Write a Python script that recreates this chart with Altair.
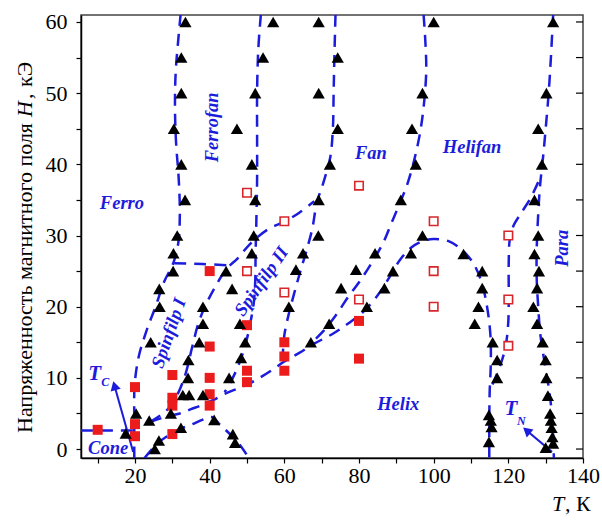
import altair as alt
import pandas as pd

# ---------------- data ----------------
# black triangles (T, K ; H, kOe)
tri_T = [33.5, 32.4, 32.4, 30.4, 32.4, 33.4, 31.3, 30.3, 30.2, 26.5, 26.6, 24.2, 17.5, 20.3, 23.8, 26.4, 25.3, 29.6,
         32.3, 34.3, 34.2, 32.8, 34.5, 38.2, 38.2, 38.2, 37.2, 44.4, 46.0, 41.2, 46.2, 46.8, 45.2, 48.1, 49.5, 48.4,
         47.3,
         57.0, 54.3, 52.2, 51.3, 52.2, 51.8, 51.3,
         69.2, 74.3, 69.2, 74.3, 72.2, 69.2, 69.1, 65.0, 63.1, 61.2,
         100.0, 97.0, 94.2, 95.2, 91.2, 97.0,
         93.9, 89.1, 86.8, 84.3, 79.2, 75.2, 72.0, 67.1, 82.1,
         108.0, 113.0, 113.0, 112.0, 111.0, 115.8, 117.0, 117.0, 114.8, 115.3, 115.5, 114.8,
         132.0, 130.2, 128.0, 129.0, 127.0, 128.0, 127.0, 128.2, 127.7, 126.7, 127.7, 129.2, 130.0, 130.2, 130.6,
         131.2, 131.4, 131.6, 131.8, 132.0, 130.0]
tri_H = [60, 55, 50, 45, 40, 35, 30, 27.5, 25, 22.5, 20, 15, 2.2, 5, 4, 1.2, 0, 5,
         3, 12.5, 10, 7.6, 7.6, 7.6, 20, 17.6, 15, 25, 22.5, 4.1, 2.1, 0.9, 10, 17.6, 15, 12.8,
         45,
         60, 55, 50, 40, 35, 30, 27.5,
         60, 55, 50, 45, 40, 35, 30, 27.5, 25.2, 20,
         60, 50, 45, 40, 35, 30,
         27.5, 25, 22.6, 27.5, 25.2, 22.6, 17.6, 15, 20,
         27.4, 25, 22.6, 20, 17.6, 15, 12.5, 10, 4.8, 4, 3.1, 1,
         60, 50, 45, 40, 35, 30, 27.4, 25, 22.6, 20, 17.6, 15, 12.5, 10, 7.5,
         5, 4, 3, 1.7, 0.8, 0.2]

# red filled squares
sq_T = [10, 20, 20, 20, 30, 30, 30, 30, 40, 40, 40, 40, 40, 50, 50, 50, 60, 60, 60, 80, 80]
sq_H = [2.7, 8.7, 3.5, 1.8, 10.4, 7.2, 6.1, 2.1, 25, 14.4, 10, 7.7, 6.1, 17.4, 11, 9.4, 15, 13, 11, 18, 12.7]

# red open squares
hol_T = [50, 50, 60, 60, 80, 80, 100, 100, 100, 120, 120, 120]
hol_H = [36, 25, 32, 22, 37, 21, 32, 25, 20, 30, 21, 14.5]

# dashed phase boundaries
cone_T = [5.5, 21.0]
cone_H = [2.6, 2.6]
ferro_T = [19.8, 19.8, 19.9, 21.0, 23.0, 25.5, 27.8, 30.3, 31.6, 32.0, 31.7, 31.0, 30.7, 30.9, 31.5, 32.2]
ferro_H = [-1.3, 4.0, 9.0, 13.0, 16.5, 20.0, 23.5, 26.2, 29.0, 33.0, 38.0, 43.0, 48.0, 53.0, 57.0, 61.0]
sf1_T = [30.5, 38.0, 45.0]
sf1_H = [26.1, 26.0, 25.8]
ffan_T = [53.7, 53.0, 52.7, 52.7, 52.7, 52.5, 52.3, 52.2, 51.8, 50.8, 49.5, 47.5, 45.5, 44.0]
ffan_H = [61.0, 56.0, 50.0, 44.0, 38.0, 32.0, 27.5, 23.5, 20.5, 17.5, 14.5, 11.5, 9.3, 8.0]
sf2_T = [24.0, 27.0, 29.5, 31.5, 33.5, 35.3, 37.0, 39.0, 41.5, 44.5, 47.5, 50.8, 55.4, 60.2, 64.0, 68.0]
sf2_H = [3.8, 4.8, 6.0, 7.8, 10.5, 14.3, 17.7, 20.3, 22.8, 25.3, 26.8, 28.8, 30.8, 32.0, 33.2, 34.8]
fan_T = [73.7, 73.4, 73.2, 73.0, 72.3, 70.5, 68.7, 67.5, 66.0, 64.3, 62.7, 61.2, 60.0, 59.5]
fan_H = [61.0, 55.0, 50.0, 45.0, 41.0, 37.5, 34.6, 31.0, 28.0, 25.0, 22.0, 19.0, 16.0, 12.3]
hfan_T = [97.3, 97.8, 98.0, 97.3, 96.2, 94.5, 92.8, 90.5, 88.5, 86.5, 83.8, 80.5, 77.0, 73.8, 70.5, 67.0]
hfan_H = [61.0, 57.0, 53.0, 48.0, 44.0, 40.0, 37.0, 34.0, 31.5, 29.0, 26.5, 23.8, 21.3, 18.8, 16.6, 14.8]
helix_T = [24.0, 28.0, 32.0, 35.0, 38.0, 41.0, 44.6, 48.0, 51.0, 54.0, 57.0, 60.0, 64.0, 68.0, 73.0, 77.0,
           81.0, 85.0, 88.0, 91.0, 94.0, 97.0, 100.0, 104.0, 107.5, 110.5, 112.8, 114.3, 115.2, 115.3, 115.0,
           114.9, 114.9]
helix_H = [3.8, 4.5, 5.0, 5.6, 6.2, 6.9, 7.9, 8.6, 9.3, 10.2, 11.2, 12.3, 13.5, 14.8, 16.2, 17.6,
           19.2, 21.6, 24.0, 26.6, 28.3, 29.2, 29.5, 29.2, 28.0, 26.2, 23.5, 20.0, 16.0, 12.0, 8.0,
           4.0, -1.3]
dome_T = [22.5, 26.0, 28.6, 32.0, 35.0, 38.0, 40.5, 43.0, 46.0, 48.5, 50.5]
dome_H = [-1.3, 0.8, 1.8, 2.8, 3.4, 4.1, 4.5, 3.3, 1.8, 0.3, -1.3]
para_T = [132.0, 131.4, 130.8, 130.0, 129.3, 128.5, 128.0, 127.6, 127.6, 128.0, 128.6, 129.6, 131.0, 131.8, 132.2]
para_H = [61.0, 55.0, 50.0, 45.0, 41.0, 37.0, 33.0, 28.0, 24.0, 20.0, 16.0, 12.5, 8.0, 4.0, -1.3]
branch_T = [128.0, 126.0, 123.5, 121.5, 120.4, 120.1, 120.1, 120.0, 119.3, 118.0, 116.5, 115.3]
branch_H = [37.5, 35.3, 33.2, 31.5, 29.5, 26.0, 22.0, 18.0, 14.5, 12.0, 10.0, 8.5]

# arrows (T_C and T_N): shaft from base to head
arrow_names = ["TC", "TN"]
arrow_T0 = [19.5, 131.7]
arrow_H0 = [-0.4, -0.4]
arrow_T1 = [14.5, 124.9]
arrow_H1 = [8.9, 2.6]
arrow_ang = [344.5, 309.8]

# phase labels
lab_text = ["Ferro", "Fan", "Helifan", "Helix", "Cone"]
lab_T = [16.5, 83.2, 110.3, 90.5, 12.8]
lab_H = [34.6, 41.6, 42.4, 6.3, 0.1]
rlab_text = ["Ferrofan", "Para", "Spinfilp I", "Spinfilp II"]
rlab_T = [40.6, 134.4, 29.0, 53.8]
rlab_H = [45.2, 28.2, 16.3, 23.6]
rlab_ang = [270, 270, 289, 305]
sym_T_T = [9.2, 120.7]
sym_T_H = [10.5, 5.6]
sym_sub_text = ["C", "N"]
sym_sub_T = [12.0, 123.5]
sym_sub_H = [9.4, 3.9]

x_ticks = list(range(10, 141, 10))
y_ticks = list(range(0, 61, 5))

# ---------------- styling ----------------
BLUE = "#1c1cdc"
SERIF = "Liberation Serif"
W, Hh = 502, 443

xs = alt.Scale(domain=[5.53, 140], nice=False, zero=False)
ys = alt.Scale(domain=[-1.26, 60.98], nice=False, zero=False)
xaxis = alt.Axis(values=x_ticks, labelExpr="datum.value % 20 == 0 ? datum.label : ''", title=None,
                 grid=False, tickSize=5, tickColor="black", tickWidth=1.2, domainColor="black",
                 domainWidth=1.5, labelFont=SERIF, labelFontSize=22, labelColor="black",
                 labelPadding=2, labelOverlap=False, labelFlush=False)
yaxis = alt.Axis(values=y_ticks, labelExpr="datum.value % 10 == 0 ? datum.label : ''", title=None,
                 grid=False, tickSize=5, tickColor="black", tickWidth=1.2, domainColor="black",
                 domainWidth=1.5, labelFont=SERIF, labelFontSize=22, labelColor="black",
                 labelPadding=9, labelOverlap=False, labelFlush=False)


def X():
    return alt.X("T:Q", scale=xs, axis=xaxis)


def Y():
    return alt.Y("H:Q", scale=ys, axis=yaxis)


curves = {
    "cone": (cone_T, cone_H), "ferro": (ferro_T, ferro_H), "sf1": (sf1_T, sf1_H),
    "ffan": (ffan_T, ffan_H), "sf2": (sf2_T, sf2_H), "fan": (fan_T, fan_H),
    "hfan": (hfan_T, hfan_H), "helix": (helix_T, helix_H), "dome": (dome_T, dome_H),
    "para": (para_T, para_H), "branch": (branch_T, branch_H),
}
rows = []
for name, (ts, hs) in curves.items():
    for i, (t, h) in enumerate(zip(ts, hs)):
        rows.append({"curve": name, "ord": i, "T": t, "H": h})
lines_df = pd.DataFrame(rows)

arrow_rows = []
for n, t0, h0, t1, h1 in zip(arrow_names, arrow_T0, arrow_H0, arrow_T1, arrow_H1):
    arrow_rows.append({"arrow": n, "ord": 0, "T": t0, "H": h0})
    arrow_rows.append({"arrow": n, "ord": 1, "T": t1, "H": h1})
arrow_df = pd.DataFrame(arrow_rows)
head_df = pd.DataFrame({"T": arrow_T1, "H": arrow_H1, "ang": arrow_ang})

tri_df = pd.DataFrame({"T": tri_T, "H": tri_H})
sq_df = pd.DataFrame({"T": sq_T, "H": sq_H})
hol_df = pd.DataFrame({"T": hol_T, "H": hol_H})
lab_df = pd.DataFrame({"T": lab_T, "H": lab_H, "txt": lab_text})
rlab_df = pd.DataFrame({"T": rlab_T, "H": rlab_H, "txt": rlab_text, "ang": rlab_ang})
symT_df = pd.DataFrame({"T": sym_T_T, "H": sym_T_H, "txt": ["T", "T"]})
symS_df = pd.DataFrame({"T": sym_sub_T, "H": sym_sub_H, "txt": sym_sub_text})
rt_df = pd.DataFrame({"H": y_ticks})
one = pd.DataFrame({"a": [0]})

lines = alt.Chart(lines_df).mark_line(
    color=BLUE, strokeWidth=2.5, strokeDash=[12, 8], interpolate="catmull-rom", clip=True
).encode(x=X(), y=Y(), detail="curve:N", order="ord:Q")

arrows = alt.Chart(arrow_df).mark_line(color=BLUE, strokeWidth=2).encode(
    x=X(), y=Y(), detail="arrow:N", order="ord:Q")
heads = alt.Chart(head_df).mark_point(shape="triangle-up", filled=True, color=BLUE, size=110,
                                      opacity=1).encode(
    x=X(), y=Y(), angle=alt.Angle("ang:Q", scale=None))

rticks = alt.Chart(rt_df).mark_rule(color="black", strokeWidth=1.2).encode(
    y=Y(), x=alt.value(W - 7), x2=alt.value(W))

filled = alt.Chart(sq_df).mark_square(size=100, color="#ec1c1c", opacity=1).encode(x=X(), y=Y())
hollow = alt.Chart(hol_df).mark_square(size=72, filled=True, fill="white", stroke="#d8262a",
                                       strokeWidth=1.6, opacity=1).encode(x=X(), y=Y())
tris = alt.Chart(tri_df).mark_point(shape="triangle-up", filled=True, color="black", size=150,
                                    opacity=1).encode(x=X(), y=Y())

labels = alt.Chart(lab_df).mark_text(font=SERIF, fontSize=18.5, fontStyle="italic", fontWeight="bold",
                                     color=BLUE).encode(x=X(), y=Y(), text="txt:N")
rlabels = alt.Chart(rlab_df).mark_text(font=SERIF, fontSize=18.5, fontStyle="italic", fontWeight="bold",
                                       color=BLUE).encode(x=X(), y=Y(), text="txt:N",
                                                          angle=alt.Angle("ang:Q", scale=None))
symT = alt.Chart(symT_df).mark_text(font=SERIF, fontSize=21, fontStyle="italic", fontWeight="bold",
                                    color=BLUE).encode(x=X(), y=Y(), text="txt:N")
symS = alt.Chart(symS_df).mark_text(font=SERIF, fontSize=12, fontStyle="italic", fontWeight="bold",
                                    color=BLUE).encode(x=X(), y=Y(), text="txt:N")

# axis titles built from pieces (italic symbol)
yt1 = alt.Chart(one).mark_text(font=SERIF, fontSize=22, angle=270, align="right", baseline="middle",
                               color="black").encode(x=alt.value(-56), y=alt.value(108),
                                                     text=alt.value("Напряженность магнитного поля"))
yt2 = alt.Chart(one).mark_text(font=SERIF, fontSize=22, angle=270, align="left", baseline="middle",
                               fontStyle="italic", color="black").encode(
    x=alt.value(-56), y=alt.value(102), text=alt.value("H"))
yt3 = alt.Chart(one).mark_text(font=SERIF, fontSize=22, angle=270, align="left", baseline="middle",
                               color="black").encode(x=alt.value(-56), y=alt.value(84),
                                                     text=alt.value(","))
yt4 = alt.Chart(one).mark_text(font=SERIF, fontSize=22, angle=270, align="left", baseline="middle",
                               color="black").encode(x=alt.value(-56), y=alt.value(72),
                                                     text=alt.value("кЭ"))
xt1 = alt.Chart(one).mark_text(font=SERIF, fontSize=22, align="left", baseline="middle",
                               fontStyle="italic", color="black").encode(
    x=alt.value(471), y=alt.value(46 + Hh), text=alt.value("T"))
xt2 = alt.Chart(one).mark_text(font=SERIF, fontSize=22, align="left", baseline="middle",
                               color="black").encode(x=alt.value(484), y=alt.value(46 + Hh),
                                                     text=alt.value(", К"))

chart = alt.layer(
    lines, arrows, heads, rticks, filled, hollow, tris, labels, rlabels, symT, symS,
    yt1, yt2, yt3, yt4, xt1, xt2
).properties(
    width=W, height=Hh,
    padding={"left": 81, "top": 15, "right": 19, "bottom": 62},
    autosize=alt.AutoSizeParams(type="none"),
    background="white",
).configure_view(stroke="#444", strokeWidth=1.5)

chart.save("out.html", embed_options={"renderer": "svg", "actions": False})
